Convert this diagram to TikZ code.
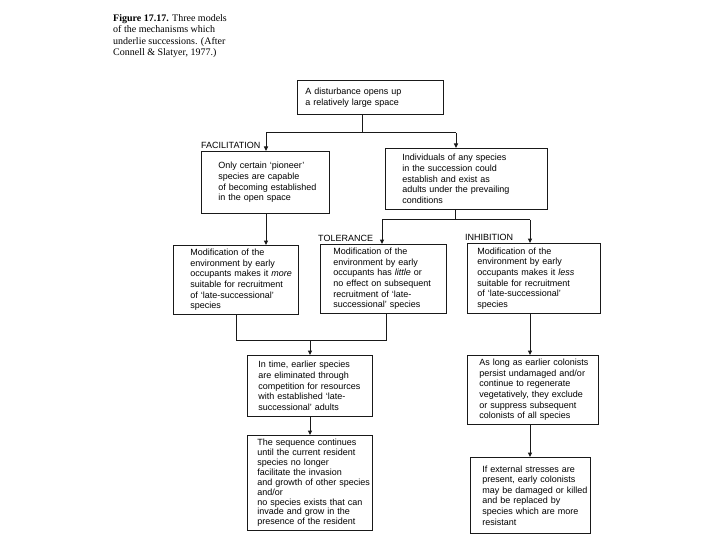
\documentclass[tikz,border=0pt]{standalone}
\usepackage{fontspec}
\setmainfont{Liberation Sans}
\newfontfamily\capfont{Liberation Serif}
\usetikzlibrary{arrows.meta}
\tikzset{
  box/.style={draw=black!90, line width=0.9pt, anchor=north west, inner xsep=2pt, inner ysep=1pt,
    align=left, font=\fontsize{9}{10.6}\selectfont, text=black},
  lbl/.style={anchor=west, inner sep=0pt, font=\fontsize{9}{10.6}\selectfont, text=black},
  ln/.style={line width=1pt, draw=black!90},
  arr/.style={ln, -{Triangle[length=4.5pt,width=4pt]}}
}
\begin{document}
\begin{tikzpicture}[x=1pt,y=-1pt]
\useasboundingbox (0,0) rectangle (720,540);
% caption
\node[anchor=north west, inner sep=0pt, align=left, font=\capfont\fontsize{10}{11.6}\selectfont, text=black] (cap) at (113,14)
  {\textbf{Figure 17.17.} Three models\\of the mechanisms which\\underlie successions. (After\\Connell \& Slatyer, 1977.)};
% boxes
\node[box, minimum width=146, minimum height=34, text width=142] (A) at (297,80)
  {\leftskip=6pt A disturbance opens up\\a relatively large space\par};
\node[box, minimum width=128, minimum height=62, text width=124] (F1) at (201,151)
  {\leftskip=15pt Only certain `pioneer'\\species are capable\\of becoming established\\in the open space\par};
\node[box, minimum width=162, minimum height=61, text width=158] (I1) at (385,148)
  {\leftskip=15pt Individuals of any species\\in the succession could\\establish and exist as\\adults under the prevailing\\conditions\par};
\node[box, minimum width=125, minimum height=69, text width=121] (F2) at (173,245)
  {\leftskip=15pt Modification of the\\environment by early\\\mbox{occupants makes it \emph{more}}\\\mbox{suitable for recruitment}\\of `late-successional'\\species\par};
\node[box, minimum width=126, minimum height=69, text width=122] (T2) at (320,244)
  {\leftskip=11pt Modification of the\\environment by early\\occupants has \emph{little} or\\\mbox{no effect on subsequent}\\recruitment of `late-\\successional' species\par};
\node[box, minimum width=133, minimum height=70, text width=129] (H2) at (467,243)
  {\leftskip=8pt Modification of the\\environment by early\\occupants makes it \emph{less}\\suitable for recruitment\\of `late-successional'\\species\par};
\node[box, minimum width=125, minimum height=61, text width=121] (C3) at (247,355)
  {\leftskip=9pt In time, earlier species\\are eliminated through\\\mbox{competition for resources}\\with established `late-\\successional' adults\par};
\node[box, minimum width=125, minimum height=95, text width=121, font=\fontsize{9}{9.9}\selectfont] (C4) at (247,435)
  {\leftskip=8pt The sequence continues\\until the current resident\\species no longer\\facilitate the invasion\\\mbox{and growth of other species}\\and/or\\no species exists that can\\invade and grow in the\\presence of the resident\par};
\node[box, minimum width=131, minimum height=69, text width=127] (H3) at (467,355)
  {\leftskip=10pt \mbox{As long as earlier colonists}\\persist undamaged and/or\\continue to regenerate\\vegetatively, they exclude\\or suppress subsequent\\colonists of all species\par};
\node[box, minimum width=120, minimum height=76, text width=116] (H4) at (470,457)
  {\leftskip=10pt If external stresses are\\present, early colonists\\\mbox{may be damaged or killed}\\and be replaced by\\species which are more\\resistant\par};
% labels
\node[lbl] (lF) at (201,145) {FACILITATION};
\node[lbl] (lT) at (318,238) {TOLERANCE};
\node[lbl] (lH) at (465,237) {INHIBITION};
% connectors
\coordinate (jA) at (362,133);
\coordinate (jL) at (266,133);
\coordinate (jR) at (456,133);
\draw[ln] (A.south -| jA) -- (jA);
\draw[ln] (jL) -- (jR);
\draw[arr] (jL) -- (jL |- F1.north);
\draw[arr] (jR) -- (jR |- I1.north);
\draw[arr] (F1.south -| jL) -- (jL |- F2.north);
\coordinate (jI) at (455,220);
\coordinate (jT) at (382,220);
\coordinate (jH) at (530,220);
\draw[ln] (I1.south -| jI) -- (jI);
\draw[ln] (jT) -- (jH);
\draw[arr] (jT) -- (jT |- T2.north);
\draw[arr] (jH) -- (jH |- H2.north);
\coordinate (mF) at (236,340);
\coordinate (mT) at (386,340);
\coordinate (mC) at (310,340);
\draw[ln] (F2.south -| mF) -- (mF) -- (mT) -- (T2.south -| mT);
\draw[arr] (mC) -- (mC |- C3.north);
\draw[arr] (C3.south -| mC) -- (mC |- C4.north);
\coordinate (xH) at (530,0);
\draw[arr] (H2.south -| xH) -- (xH |- H3.north);
\draw[arr] (H3.south -| xH) -- (xH |- H4.north);
\end{tikzpicture}
\end{document}
